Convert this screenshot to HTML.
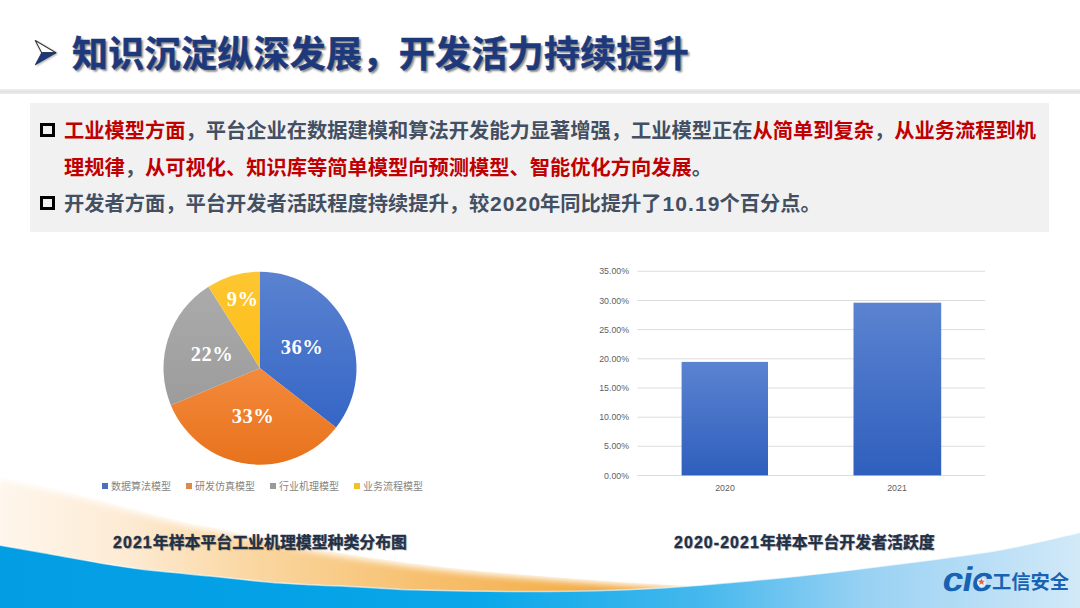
<!DOCTYPE html>
<html lang="zh-CN">
<head>
<meta charset="utf-8">
<style>
*{margin:0;padding:0;box-sizing:border-box;}
html,body{width:1080px;height:608px;overflow:hidden;background:#fff;}
body{position:relative;font-family:"Liberation Sans","Noto Sans CJK SC",sans-serif;}
.abs{position:absolute;}
#bg{position:absolute;left:0;top:0;width:1080px;height:608px;}
#title{position:absolute;left:72px;top:31.2px;font-size:36px;line-height:48px;font-weight:700;color:#1d397c;-webkit-text-stroke:0.5px #1d397c;white-space:nowrap;letter-spacing:0.3px;
  text-shadow:2px 2px 2px rgba(0,0,0,0.45);}
#rule{position:absolute;left:0;top:88.5px;width:1080px;height:5.5px;background:linear-gradient(#f1f1f1,#e2e2e2 50%,#ececec);}
#box{position:absolute;left:30px;top:102.5px;width:1018.5px;height:129.8px;background:#f1f1f1;}
.line{position:absolute;left:64px;font-size:20.25px;line-height:24px;font-weight:700;white-space:nowrap;color:#434f62;}
.red{color:#c00000;}
.d{font-size:21px;letter-spacing:1.1px;margin-left:0.8px;margin-right:-1.1px;}
.d2{letter-spacing:1.1px;}
.sq{position:absolute;left:40px;width:15px;height:14px;border:3px solid #000;}
.cap{position:absolute;font-size:15.9px;line-height:20px;font-weight:700;color:#1f3047;-webkit-text-stroke:0.35px #1f3047;white-space:nowrap;text-shadow:1px 1px 1px rgba(0,0,0,0.25);}
.leg{position:absolute;top:478px;font-size:10px;line-height:14px;color:#858585;white-space:nowrap;}
.leg i{position:absolute;top:5px;left:0;width:6px;height:6px;}
.leg span{position:absolute;left:9px;top:1.5px;}
.yl{position:absolute;left:588px;width:41px;font-size:8.8px;line-height:10px;color:#5f5f5f;text-align:right;}
.xl{position:absolute;top:483px;font-size:8.8px;line-height:10px;color:#5f5f5f;width:40px;text-align:center;}
.pl{font-family:"Liberation Serif",serif;font-weight:700;font-size:20.5px;letter-spacing:0.5px;fill:#fff;}
</style>
</head>
<body>
<!-- background waves -->
<svg id="bg" width="1080" height="608" viewBox="0 0 1080 608">
  <defs>
    <linearGradient id="og" x1="0" y1="0" x2="700" y2="0" gradientUnits="userSpaceOnUse">
      <stop offset="0" stop-color="#fef6ec"/>
      <stop offset="0.18" stop-color="#fdebd4"/>
      <stop offset="0.35" stop-color="#fad8a4"/>
      <stop offset="0.6" stop-color="#f7c06f"/>
      <stop offset="0.9" stop-color="#f2a83e"/>
    </linearGradient>
    <linearGradient id="bgr" x1="0" y1="0" x2="1080" y2="0" gradientUnits="userSpaceOnUse">
      <stop offset="0" stop-color="#039de3"/>
      <stop offset="0.25" stop-color="#05a1e6"/>
      <stop offset="0.45" stop-color="#0aa8ea"/>
      <stop offset="0.65" stop-color="#45b8ed"/>
      <stop offset="0.8" stop-color="#98d1f3"/>
      <stop offset="1" stop-color="#d2e9f8"/>
    </linearGradient>
    <filter id="soft" x="-0.1" y="-0.3" width="1.2" height="1.6"><feGaussianBlur stdDeviation="3.5"/><feOffset dy="3"/></filter>
    <mask id="pm" maskUnits="userSpaceOnUse" x="0" y="400" width="1080" height="208"><path d="M-2,476 C8.3,478.3 43.0,486.0 60,490 C77.0,494.0 80.0,494.8 100,500 C120.0,505.2 160.0,516.2 180,521 C200.0,525.8 200.0,524.8 220,529 C240.0,533.2 273.3,541.0 300,546 C326.7,551.0 358.3,555.8 380,559 C401.7,562.2 413.3,563.5 430,565.5 C446.7,567.5 461.7,569.2 480,571 C498.3,572.8 516.7,574.2 540,576 C563.3,577.8 593.3,580.2 620,582 C646.7,583.8 676.7,585.2 700,586.5 C723.3,587.8 750.0,589.4 760,590 L760,608 L-2,608 Z" fill="#fff" filter="url(#soft)"/><rect x="0" y="595" width="1080" height="13" fill="#fff"/></mask>
  </defs>
  <path d="M-2,476 C8.3,478.3 43.0,486.0 60,490 C77.0,494.0 80.0,494.8 100,500 C120.0,505.2 160.0,516.2 180,521 C200.0,525.8 200.0,524.8 220,529 C240.0,533.2 273.3,541.0 300,546 C326.7,551.0 358.3,555.8 380,559 C401.7,562.2 413.3,563.5 430,565.5 C446.7,567.5 461.7,569.2 480,571 C498.3,572.8 516.7,574.2 540,576 C563.3,577.8 593.3,580.2 620,582 C646.7,583.8 676.7,585.2 700,586.5 C723.3,587.8 750.0,589.4 760,590 L760,608 L-2,608 Z" fill="url(#og)" mask="url(#pm)"/>
  <path d="M-2,545 C6.7,546.5 33.0,551.0 50,554 C67.0,557.0 85.0,560.5 100,563 C115.0,565.5 121.7,566.8 140,569 C158.3,571.2 186.7,573.7 210,576 C233.3,578.3 255.0,581.2 280,583 C305.0,584.8 336.7,585.8 360,587 C383.3,588.2 393.3,589.2 420,590 C446.7,590.8 486.7,591.5 520,591.5 C553.3,591.5 591.7,590.9 620,590 C648.3,589.1 673.3,587.1 690,586 C706.7,584.9 701.7,585.2 720,583.5 C738.3,581.8 770.0,579.2 800,576 C830.0,572.8 866.7,568.3 900,564 C933.3,559.7 969.7,555.3 1000,550 C1030.3,544.7 1068.3,535.0 1082,532 L1082,608 L-2,608 Z" fill="url(#bgr)"/>
  <path id="bedge" d="M-2,545 C6.7,546.5 33.0,551.0 50,554 C67.0,557.0 85.0,560.5 100,563 C115.0,565.5 121.7,566.8 140,569 C158.3,571.2 186.7,573.7 210,576 C233.3,578.3 255.0,581.2 280,583 C305.0,584.8 336.7,585.8 360,587 C383.3,588.2 393.3,589.2 420,590 C446.7,590.8 486.7,591.5 520,591.5 C553.3,591.5 591.7,590.9 620,590 C648.3,589.1 673.3,587.1 690,586 C706.7,584.9 701.7,585.2 720,583.5 C738.3,581.8 770.0,579.2 800,576 C830.0,572.8 866.7,568.3 900,564 C933.3,559.7 969.7,555.3 1000,550 C1030.3,544.7 1068.3,535.0 1082,532" fill="none" stroke="#ffffff" stroke-opacity="0.6" stroke-width="1.5"/>
</svg>

<!-- title -->
<svg class="abs" style="left:30px;top:36px" width="32" height="34" viewBox="30 36 32 34">
  <defs><filter id="ash" x="-0.3" y="-0.3" width="1.6" height="1.6"><feDropShadow dx="1" dy="1" stdDeviation="0.8" flood-color="#000" flood-opacity="0.35"/></filter></defs>
  <g filter="url(#ash)">
  <path d="M35.3,40.5 L56,52.8 L41.7,52.8 Z" fill="#fff" stroke="#3a3a3a" stroke-width="1.1" stroke-linejoin="round"/>
  <path d="M41.7,52.8 L56,52.8 L35.3,64.8 Z" fill="#1d397c" stroke="#1a2a50" stroke-width="0.8" stroke-linejoin="round"/>
  </g>
</svg>
<div id="title">知识沉淀纵深发展，开发活力持续提升</div>
<div id="rule"></div>

<div id="box"></div>
<div class="sq" style="top:122.5px"></div>
<div class="line" style="top:118.5px"><span class="red">工业模型方面</span>，平台企业在数据建模和算法开发能力显著增强，工业模型正在<span class="red">从简单到复杂</span>，<span class="red">从业务流程到机</span></div>
<div class="line" style="top:156px"><span class="red">理规律</span>，<span class="red">从可视化、知识库等简单模型向预测模型、智能优化方向发展</span>。</div>
<div class="sq" style="top:196px"></div>
<div class="line" style="top:192px">开发者方面，平台开发者活跃程度持续提升，较<span class="d">2020</span>年同比提升了<span class="d">10.19</span>个百分点。</div>

<!-- pie chart -->
<svg class="abs" style="left:0;top:0" width="540" height="500" viewBox="0 0 540 500">
  <defs>
    <linearGradient id="pb" x1="0" y1="0" x2="0" y2="1"><stop offset="0" stop-color="#5a82d0"/><stop offset="1" stop-color="#3566c6"/></linearGradient>
    <linearGradient id="po" x1="0" y1="0" x2="0" y2="1"><stop offset="0" stop-color="#f38a3c"/><stop offset="1" stop-color="#e8721c"/></linearGradient>
    <linearGradient id="pg" x1="0" y1="0" x2="0" y2="1"><stop offset="0" stop-color="#ababab"/><stop offset="1" stop-color="#9c9c9c"/></linearGradient>
    <linearGradient id="py" x1="0" y1="0" x2="0" y2="1"><stop offset="0" stop-color="#fec632"/><stop offset="1" stop-color="#fcbd16"/></linearGradient>
  </defs>
  <path d="M260,368.2 L260.00,271.70 A96.5,96.5 0 0 1 336.04,427.61 Z" fill="url(#pb)"/>
  <path d="M260,368.2 L336.04,427.61 A96.5,96.5 0 0 1 170.85,405.13 Z" fill="url(#po)"/>
  <path d="M260,368.2 L170.85,405.13 A96.5,96.5 0 0 1 208.43,286.63 Z" fill="url(#pg)"/>
  <path d="M260,368.2 L208.43,286.63 A96.5,96.5 0 0 1 260.00,271.70 Z" fill="url(#py)"/>
  <text class="pl" x="302" y="354" text-anchor="middle">36%</text>
  <text class="pl" x="253" y="423" text-anchor="middle">33%</text>
  <text class="pl" x="212" y="361" text-anchor="middle">22%</text>
  <text class="pl" x="242.5" y="306" text-anchor="middle">9%</text>
</svg>
<div class="leg" style="left:102px"><i style="background:#4a6fbf"></i><span>数据算法模型</span></div>
<div class="leg" style="left:186px"><i style="background:#e0884a"></i><span>研发仿真模型</span></div>
<div class="leg" style="left:270px"><i style="background:#9a9a9a"></i><span>行业机理模型</span></div>
<div class="leg" style="left:354px"><i style="background:#f3c02c"></i><span>业务流程模型</span></div>

<!-- bar chart -->
<svg class="abs" style="left:0;top:0" width="1080" height="500" viewBox="0 0 1080 500">
  <defs>
    <linearGradient id="bb" x1="0" y1="0" x2="0" y2="1"><stop offset="0" stop-color="#5b83d0"/><stop offset="1" stop-color="#2f5fbd"/></linearGradient>
  </defs>
  <g stroke="#dcdcdc" stroke-width="1">
    <line x1="637.5" y1="271.3" x2="985" y2="271.3"/>
    <line x1="637.5" y1="300.5" x2="985" y2="300.5"/>
    <line x1="637.5" y1="329.6" x2="985" y2="329.6"/>
    <line x1="637.5" y1="358.8" x2="985" y2="358.8"/>
    <line x1="637.5" y1="388.0" x2="985" y2="388.0"/>
    <line x1="637.5" y1="417.2" x2="985" y2="417.2"/>
    <line x1="637.5" y1="446.3" x2="985" y2="446.3"/>
    <line x1="637.5" y1="475.5" x2="985" y2="475.5"/>
  </g>
  <rect x="681.6" y="361.9" width="86.4" height="113.5" fill="url(#bb)"/>
  <rect x="853.5" y="302.7" width="87.7" height="172.7" fill="url(#bb)"/>
</svg>
<div class="yl" style="top:266.3px">35.00%</div>
<div class="yl" style="top:295.5px">30.00%</div>
<div class="yl" style="top:324.6px">25.00%</div>
<div class="yl" style="top:353.8px">20.00%</div>
<div class="yl" style="top:383.0px">15.00%</div>
<div class="yl" style="top:412.2px">10.00%</div>
<div class="yl" style="top:441.3px">5.00%</div>
<div class="yl" style="top:470.5px">0.00%</div>
<div class="xl" style="left:705px">2020</div>
<div class="xl" style="left:877px">2021</div>

<div class="cap" style="left:113px;top:532.8px"><span class="d2">2021</span>年样本平台工业机理模型种类分布图</div>
<div class="cap" style="left:674px;top:532.8px"><span class="d2">2020-2021</span>年样本平台开发者活跃度</div>

<!-- logo -->
<div class="abs" style="left:942px;top:560px;width:130px;height:34px;white-space:nowrap;">
  <span style="position:absolute;left:-1.5px;top:0px;font-family:'Liberation Sans',sans-serif;font-weight:700;font-size:34px;line-height:38px;color:#1762b3;letter-spacing:-0.9px;transform:skewX(-10deg) scaleX(1.1);transform-origin:0 31px;">cic</span>
  <span style="position:absolute;left:34.5px;top:17.5px;width:9px;height:9px;border-radius:50%;background:#e6f2fb;"></span>
  <span style="position:absolute;left:35.5px;top:16.5px;font-size:8px;line-height:10px;color:#e06040;">★</span>
  <span style="position:absolute;left:50px;top:12px;font-size:19.3px;line-height:22px;font-weight:700;color:#1762b3;">工信安全</span>
</div>
</body>
</html>
